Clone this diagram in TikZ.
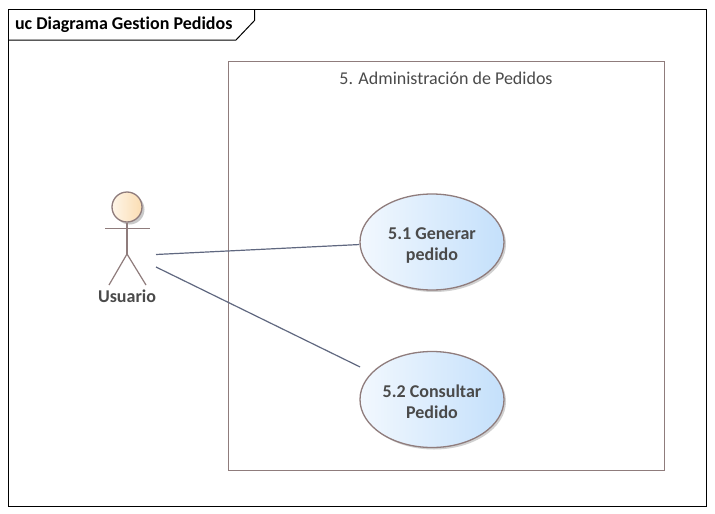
\documentclass[tikz,border=0pt]{standalone}
\usepackage{fontspec}
\setmainfont[Ligatures=NoCommon]{Carlito}
\usetikzlibrary{shapes.geometric,shadows}
\definecolor{umlborder}{HTML}{8F7C7C}
\definecolor{umltext}{HTML}{4A4A4A}
\definecolor{umlline}{HTML}{606880}
\definecolor{ucleft}{HTML}{F2F8FE}
\definecolor{ucright}{HTML}{C4E0FB}
\definecolor{headleft}{HTML}{FEF5E8}
\definecolor{headright}{HTML}{FBDDB2}
\tikzset{
	usecase/.style={ellipse,draw=umlborder,line width=1.3pt,left color=ucleft,right color=ucright,
		minimum width=144pt,minimum height=96pt,inner sep=0pt,align=center,text=umltext,
		text height=39pt,font=\fontsize{18}{21}\selectfont\bfseries,
		drop shadow={shadow xshift=2pt,shadow yshift=-2pt,fill=black!30,opacity=.6}},
	actorhead/.style={circle,draw=umlborder,line width=1.3pt,left color=headleft,right color=headright,
		minimum size=30pt,inner sep=0pt,
		drop shadow={shadow xshift=2.5pt,shadow yshift=-2.5pt,fill=black!35,opacity=.6}},
	actorline/.style={draw=umlborder,line width=1.2pt}
}
\begin{document}
\begin{tikzpicture}[x=1pt,y=-1pt]
	\useasboundingbox [fill=white] (0,0) rectangle (715,514);

	% frame and tab
	\draw [line width=1pt] (8.5,9) rectangle (706,506);
	\draw [line width=1pt] (8.5,40) -- (236,40) -- (254.5,20.5) -- (254.5,9);
	\node (frametitle) [anchor=west,font=\fontsize{18}{20}\selectfont\bfseries] at (11.5,24.5) {uc Diagrama Gestion Pedidos};

	% boundary
	\draw [draw=umlborder,line width=1pt] (228.5,61.5) rectangle (664.5,470);
	\node (boundary) [text=umltext,font=\fontsize{18}{20}\selectfont] at (446,78.5) {5. Administración de Pedidos};

	% actor
	\node (head) [actorhead] at (127,207) {};
	\coordinate (hip) at (127,254);
	\coordinate (armL) at (105,228.5);
	\coordinate (armR) at (150,228.5);
	\coordinate (legL) at (109,285);
	\coordinate (legR) at (146,285);
	\draw [actorline] (head.south) -- (hip);
	\draw [actorline] (armL) -- (armR);
	\draw [actorline] (legL) -- (hip) -- (legR);
	\node (usuario) [text=umltext,font=\fontsize{18}{20}\selectfont\bfseries] at (127,296.5) {Usuario};

	% use cases
	\node (generar) [usecase] at (432,242) {5.1 Generar\\pedido};
	\node (consultar) [usecase] at (432,399.5) {5.2 Consultar\\Pedido};

	% connectors
	\coordinate (actorA) at (156,254.5);
	\coordinate (actorB) at (156,267);
	\begin{scope}[every edge/.style={draw=umlline,line width=1.2pt}]
		\path (actorA) edge (generar.182);
		\path (actorB) edge [shorten >=12.7pt] (consultar.156);
	\end{scope}
\end{tikzpicture}
\end{document}
